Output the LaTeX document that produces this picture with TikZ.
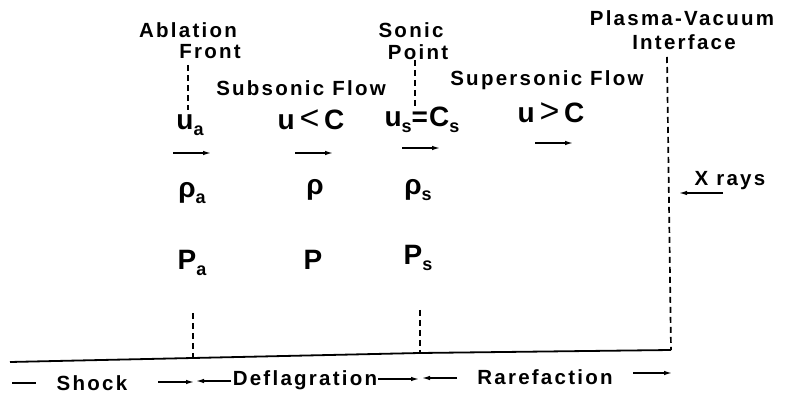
\documentclass[tikz,border=0pt]{standalone}
\usepackage{fontspec}
\usetikzlibrary{arrows.meta}
\newfontfamily\labfont{Liberation Sans}[LetterSpace=11]
\newfontfamily\qtyfont{Liberation Sans}[LetterSpace=4]
\newcommand\lowsub[1]{\raisebox{-0.22em}{\fontsize{18}{19}\selectfont #1}}
\newcommand\relsign[1]{\,{\mdseries\fontsize{34}{34}\selectfont #1}\,}
\begin{document}
\begin{tikzpicture}[
    x=1pt, y=-1pt,
    label/.style={font=\labfont\bfseries\fontsize{20.5}{22}\selectfont, inner sep=0pt},
    qty/.style={font=\qtyfont\bfseries\fontsize{28}{30}\selectfont, inner sep=0pt},
    boundary/.style={line width=1.7pt, dash pattern=on 6pt off 4pt},
    axis/.style={line width=1.8pt},
    flow/.style={-{Latex[length=8pt,width=4.5pt]}, line width=1.3pt},
]
    \useasboundingbox (0,0) rectangle (788,395);

    % Boundary labels
    \node[label] (ablation) at (188,30) {Ablation};
    \node[label] (front) at (210,52) {Front};
    \node[label] (sonic) at (411,30) {Sonic};
    \node[label] (point) at (418,52) {Point};
    \node[label] (plasma) at (682,18) {Plasma-Vacuum};
    \node[label] (iface) at (684,42) {Interface};

    % Flow regions
    \node[label] (subflow) at (301,88) {Subsonic Flow};
    \node[label] (superflow) at (547,80) {Supersonic Flow};

    % Velocities
    \node[qty] (ua) at (190,125) {u\lowsub{a}};
    \node[qty] (uless) at (311,120) {u\relsign{<}C};
    \node[qty] (us) at (422,120) {u\lowsub{s}=C\lowsub{s}};
    \node[qty] (umore) at (551,113) {u\relsign{>}C};

    % Densities and pressures
    \node[qty] (rhoa) at (192,193) {ρ\lowsub{a}};
    \node[qty] (rho) at (315,190) {ρ};
    \node[qty] (rhos) at (418,190) {ρ\lowsub{s}};
    \node[qty] (pa) at (192,263) {P\lowsub{a}};
    \node[qty] (p) at (313,260) {P};
    \node[qty] (ps) at (418,258) {P\lowsub{s}};

    % Flow arrows
    \coordinate (fa1) at (173,153);  \coordinate (fa2) at (211,153);
    \coordinate (fb1) at (295,153);  \coordinate (fb2) at (333,153);
    \coordinate (fc1) at (402,148);  \coordinate (fc2) at (440,148);
    \coordinate (fd1) at (535,143);  \coordinate (fd2) at (573,143);
    \draw[flow] (fa1) -- (fa2);
    \draw[flow] (fb1) -- (fb2);
    \draw[flow] (fc1) -- (fc2);
    \draw[flow] (fd1) -- (fd2);

    % X rays
    \node[label] (xrays) at (730,181) {X rays};
    \coordinate (xr1) at (723,193);
    \coordinate (xr2) at (679,193);
    \draw[flow] (xr1) -- (xr2);

    % Target axis
    \coordinate (left) at (10,362);
    \coordinate (ablbase) at (193,358);
    \coordinate (sonbase) at (420,353);
    \coordinate (pvbase) at (671,350);
    \draw[axis] (left) -- (ablbase) -- (sonbase) -- (pvbase);

    % Dashed boundaries
    \coordinate (abltop) at (188,65);
    \coordinate (ablmid) at (188,110);
    \coordinate (ablbot) at (193,313);
    \coordinate (sontop) at (415,60);
    \coordinate (sonmid) at (415,108);
    \coordinate (sonbot) at (420,310);
    \coordinate (pvtop) at (667,57);
    \draw[boundary] (abltop) -- (ablmid);
    \draw[boundary] (ablbot) -- (ablbase);
    \draw[boundary] (sontop) -- (sonmid);
    \draw[boundary] (sonbot) -- (sonbase);
    \draw[boundary] (pvtop) -- (pvbase);

    % Wave regions
    \node[label] (shock) at (92,383) {Shock};
    \node[label] (defl) at (305,380) {Deflagration};
    \node[label] (raref) at (545,377) {Rarefaction};
    \coordinate (sh1) at (12,383);   \coordinate (sh2) at (36,383);
    \coordinate (sh3) at (158,382);  \coordinate (sh4) at (194,382);
    \coordinate (df1) at (231,381);  \coordinate (df2) at (196,381);
    \coordinate (df3) at (378,379);  \coordinate (df4) at (419,379);
    \coordinate (rf1) at (457,378);  \coordinate (rf2) at (422,378);
    \coordinate (rf3) at (633,373);  \coordinate (rf4) at (672,373);
    \draw[line width=1.5pt] (sh1) -- (sh2);
    \draw[flow] (sh3) -- (sh4);
    \draw[flow] (df1) -- (df2);
    \draw[flow] (df3) -- (df4);
    \draw[flow] (rf1) -- (rf2);
    \draw[flow] (rf3) -- (rf4);
\end{tikzpicture}
\end{document}
